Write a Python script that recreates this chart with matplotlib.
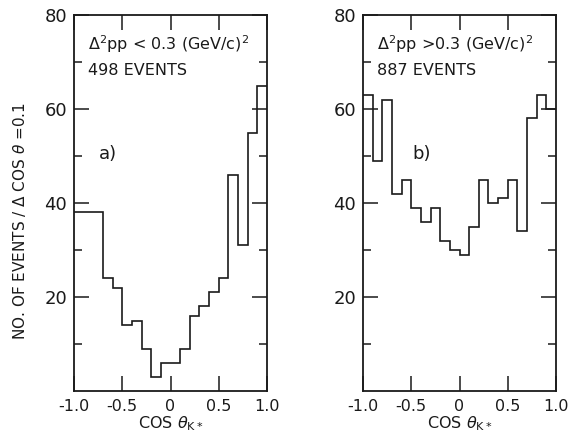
import numpy as np
import matplotlib
matplotlib.use("Agg")
import matplotlib.pyplot as plt

# bin edges in cos(theta_K*) and event counts per 0.1 bin
edges = np.round(np.linspace(-1.0, 1.0, 21), 2)
counts_a = [38, 38, 38, 24, 22, 14, 15, 9, 3, 6, 6, 9, 16, 18, 21, 24, 46, 31, 55, 65]
counts_b = [63, 49, 62, 42, 45, 39, 36, 39, 32, 30, 29, 35, 45, 40, 41, 45, 34, 58, 63, 60]

xticks = [-1.0, -0.5, 0.0, 0.5, 1.0]
xticklabels = ["-1.0", "-0.5", "0", "0.5", "1.0"]
yticks = [20, 40, 60, 80]
yminor = [10, 30, 50, 70]

panels = [
    (counts_a, r"$\Delta^2$pp < 0.3 (GeV/c)$^2$", "498 EVENTS", "a)", -0.74),
    (counts_b, r"$\Delta^2$pp >0.3 (GeV/c)$^2$", "887 EVENTS", "b)", -0.49),
]

plt.rcParams["font.family"] = "DejaVu Sans"
plt.rcParams["mathtext.fontset"] = "dejavusans"

fig = plt.figure(figsize=(5.68, 4.37), dpi=100)
ink = "#1a1a1a"

lefts = [74 / 568, 363 / 568]
for left, (counts, cut, nev, tag, tagx) in zip(lefts, panels):
    ax = fig.add_axes([left, 46 / 437, 193 / 568, 376 / 437])
    ax.stairs(counts, edges, baseline=None, color=ink, linewidth=1.2)
    ax.set_xlim(-1.0, 1.0)
    ax.set_ylim(0, 80)
    ax.set_xticks(xticks)
    ax.set_xticklabels(xticklabels, fontsize=11.5)
    ax.set_yticks(yticks)
    ax.set_yticklabels([str(v) for v in yticks], fontsize=13)
    ax.set_yticks(yminor, minor=True)
    ax.tick_params(axis="both", which="major", direction="in", length=11,
                   width=1.1, color=ink, labelcolor=ink, top=True, right=True)
    ax.tick_params(axis="x", which="major", pad=6)
    ax.tick_params(axis="y", which="major", pad=5)
    ax.tick_params(axis="y", which="minor", direction="in", length=6,
                   width=1.1, color=ink, right=True)
    for s in ax.spines.values():
        s.set_linewidth(1.3)
        s.set_color(ink)
    ax.text(-0.86, 72.6, cut, fontsize=11.5, color=ink)
    ax.text(-0.86, 67.3, nev, fontsize=11.5, color=ink)
    ax.text(tagx, 50.5, tag, fontsize=13, color=ink, va="center")
    ax.set_xlabel(r"COS $\theta_{\rm K*}$", fontsize=11.5, color=ink, labelpad=0)

fig.text(20 / 568, 1 - 221 / 437, r"NO. OF EVENTS / $\Delta$ COS $\theta$ =0.1",
         rotation=90, ha="center", va="center", fontsize=11, color=ink)

fig.savefig("out.png", dpi=100, facecolor="white")
